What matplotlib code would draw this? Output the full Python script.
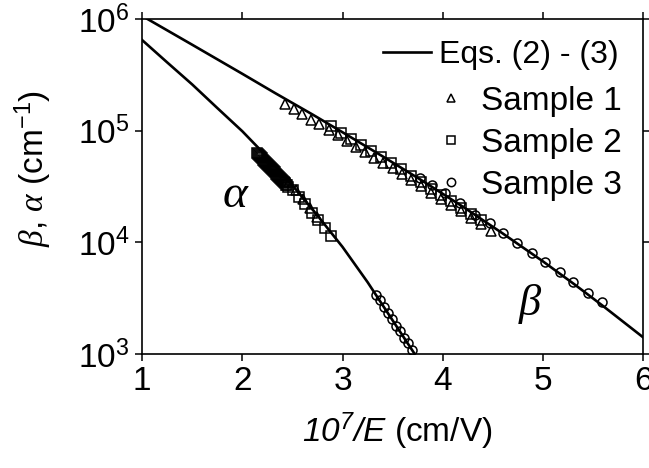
import numpy as np
import matplotlib
matplotlib.use("Agg")
import matplotlib.pyplot as plt
from matplotlib.lines import Line2D
from matplotlib.ticker import LogFormatterSciNotation, FixedLocator, NullLocator

plt.rcParams['font.family'] = ['Liberation Sans', 'DejaVu Sans']
plt.rcParams['mathtext.fontset'] = 'custom'
plt.rcParams['mathtext.rm'] = 'Liberation Sans'
plt.rcParams['mathtext.it'] = 'Liberation Sans:italic'
plt.rcParams['mathtext.bf'] = 'Liberation Sans:italic'
plt.rcParams['mathtext.cal'] = 'Liberation Serif:italic'

# model curves, Eqs. (2) - (3)
beta_curve_x = [1.0, 1.5, 2.0, 2.33, 2.7, 3.0, 3.4, 3.8, 4.2, 4.6, 5.0, 5.32, 5.6, 6.0]
beta_curve_y = [1.07e6, 5.9e5, 3.24e5, 2.17e5, 1.40e5, 9.7e4, 5.9e4, 3.55e4, 2.09e4,
                1.2e4, 6.76e3, 4.17e3, 2.69e3, 1.41e3]
alpha_curve_x = [1.0, 1.25, 1.5, 1.75, 2.0, 2.25, 2.5, 2.75, 3.0, 3.25, 3.5, 3.72]
alpha_curve_y = [6.5e5, 4.1e5, 2.6e5, 1.6e5, 9.9e4, 5.8e4, 3.25e4, 1.74e4,
                 9.1e3, 4.4e3, 2.0e3, 1.0e3]

# Sample 1 (triangles)
s1_beta_x = [2.43, 2.52, 2.60, 2.69, 2.77, 2.86, 2.95, 3.04, 3.13, 3.22, 3.31, 3.40,
             3.50, 3.59, 3.68, 3.78, 3.88, 3.98, 4.08, 4.18, 4.28, 4.38, 4.48]
s1_beta_y = [1.74e5, 1.58e5, 1.41e5, 1.26e5, 1.15e5, 1.02e5, 9.1e4, 8.1e4, 7.2e4, 6.5e4,
             5.75e4, 5.1e4, 4.6e4, 4.1e4, 3.6e4, 3.2e4, 2.75e4, 2.45e4, 2.15e4, 1.9e4,
             1.66e4, 1.45e4, 1.26e4]
s1_alpha_x = [2.47, 2.54, 2.61, 2.68, 2.75]
s1_alpha_y = [3.45e4, 2.95e4, 2.45e4, 2.05e4, 1.7e4]

# Sample 2 (squares)
s2_beta_x = [2.88, 2.98, 3.08, 3.18, 3.28, 3.38, 3.48, 3.58, 3.68, 3.78, 3.88, 3.98,
             4.08, 4.18, 4.28, 4.38]
s2_beta_y = [1.10e5, 9.6e4, 8.5e4, 7.4e4, 6.6e4, 5.8e4, 5.1e4, 4.5e4, 3.9e4, 3.45e4,
             3.0e4, 2.65e4, 2.33e4, 2.05e4, 1.8e4, 1.58e4]
s2_alpha_x = [2.15, 2.16, 2.17, 2.18, 2.19, 2.20, 2.21, 2.22, 2.23, 2.24, 2.25, 2.26,
              2.27, 2.28, 2.29, 2.30, 2.31, 2.32, 2.33, 2.34, 2.35, 2.36, 2.37, 2.38,
              2.39, 2.40, 2.41, 2.42, 2.43, 2.44, 2.45, 2.46,
              2.51, 2.57, 2.63, 2.70, 2.76, 2.82, 2.88]
s2_alpha_y = [6.31e4, 6.17e4, 6.04e4, 5.90e4, 5.77e4, 5.65e4, 5.52e4, 5.40e4, 5.28e4,
              5.16e4, 5.05e4, 4.93e4, 4.83e4, 4.72e4, 4.61e4, 4.52e4, 4.42e4, 4.32e4,
              4.23e4, 4.13e4, 4.04e4, 3.95e4, 3.86e4, 3.78e4, 3.70e4, 3.61e4, 3.53e4,
              3.46e4, 3.38e4, 3.30e4, 3.24e4, 3.16e4,
              2.95e4, 2.55e4, 2.2e4, 1.85e4, 1.6e4, 1.35e4, 1.15e4]

# Sample 3 (circles)
s3_beta_x = [3.77, 3.89, 4.02, 4.17, 4.32, 4.47, 4.60, 4.74, 4.89, 5.02, 5.17, 5.30, 5.45, 5.59]
s3_beta_y = [3.8e4, 3.25e4, 2.75e4, 2.24e4, 1.76e4, 1.49e4, 1.21e4, 9.9e3, 8.0e3,
             6.7e3, 5.4e3, 4.4e3, 3.5e3, 2.9e3]
s3_alpha_x = [3.33, 3.37, 3.41, 3.45, 3.49, 3.53, 3.57, 3.61, 3.65, 3.69]
s3_alpha_y = [3.4e3, 3.05e3, 2.65e3, 2.33e3, 2.05e3, 1.8e3, 1.6e3, 1.4e3, 1.25e3, 1.08e3]

x_ticks = [1, 2, 3, 4, 5, 6]
y_ticks = [1e3, 1e4, 1e5, 1e6]

fig = plt.figure(figsize=(6.49, 4.68), dpi=100)
ax = fig.add_axes([0.219, 0.2436, 0.772, 0.7154])

ax.plot(beta_curve_x, beta_curve_y, color='black', lw=1.9, zorder=2)
ax.plot(alpha_curve_x, alpha_curve_y, color='black', lw=1.9, zorder=2)

mk = dict(linestyle='none', markerfacecolor='none', markeredgecolor='black',
          markeredgewidth=1.1, zorder=3)
ax.plot(s1_beta_x, s1_beta_y, marker='^', ms=7, **mk)
ax.plot(s1_alpha_x, s1_alpha_y, marker='^', ms=7, **mk)
ax.plot(s2_beta_x, s2_beta_y, marker='s', ms=6.5, **mk)
ax.plot(s2_alpha_x, s2_alpha_y, marker='s', ms=6.5, **mk)
ax.plot(s3_beta_x, s3_beta_y, marker='o', ms=6.5, **mk)
ax.plot(s3_alpha_x, s3_alpha_y, marker='o', ms=6.5, **mk)

ax.set_yscale('log')
ax.set_xlim(1, 6)
ax.set_ylim(1e3, 1e6)
ax.xaxis.set_major_locator(FixedLocator(x_ticks))
ax.yaxis.set_major_locator(FixedLocator(y_ticks))
ax.yaxis.set_minor_locator(NullLocator())
ax.yaxis.set_major_formatter(LogFormatterSciNotation())
ax.tick_params(which='both', direction='out', length=5, width=1.1,
               top=True, right=True, labelsize=24, pad=4)
for s in ax.spines.values():
    s.set_linewidth(1.2)

ax.set_xlabel(r'$\mathbf{10^7/E}$ (cm/V)', fontsize=24)
ax.xaxis.set_label_coords(0.51, -0.17)
ax.set_ylabel(r'$\mathcal{β}$, $\mathcal{α}$ (cm$^{-1}$)', fontsize=24)
ax.yaxis.set_label_coords(-0.175, 0.555)

ax.text(1.93, 2.6e4, 'α', family='Liberation Serif', style='italic', fontsize=34,
        ha='center', va='center')
ax.text(4.87, 2.8e3, 'β', family='Liberation Serif', style='italic', fontsize=32,
        ha='center', va='center')

h_line = [Line2D([], [], color='black', lw=1.9)]
leg1 = ax.legend(h_line, ['Eqs. (2) - (3)'], loc='center left', bbox_to_anchor=(0.481, 0.893),
                 frameon=False, fontsize=23, handlelength=1.5, handletextpad=0.25,
                 borderpad=0, borderaxespad=0)
ax.add_artist(leg1)
h_mk = [Line2D([], [], marker=m, ms=6, linestyle='none', markerfacecolor='none',
               markeredgecolor='black', markeredgewidth=1.1) for m in ['^', 's', 'o']]
ax.legend(h_mk, ['Sample 1', 'Sample 2', 'Sample 3'], loc='center left',
          bbox_to_anchor=(0.59, 0.63), frameon=False, fontsize=24, handlelength=0.8,
          handletextpad=0.5, labelspacing=0.33, borderpad=0, borderaxespad=0)

plt.savefig('out.png', dpi=100)
